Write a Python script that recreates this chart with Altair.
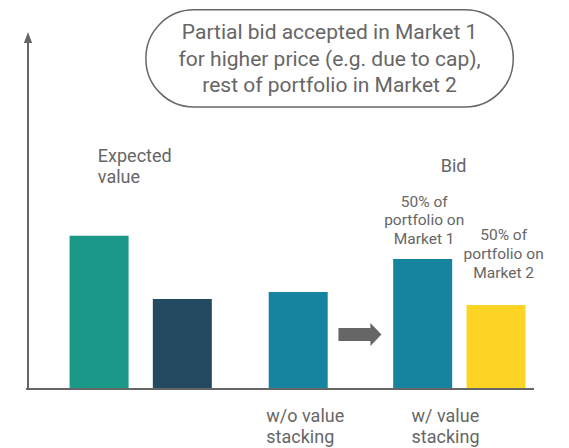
import altair as alt
import pandas as pd

# ---- data ----
categories = ["Expected A", "Expected B", "w/o value stacking", "Market 1", "Market 2"]
values = [42.9, 25.2, 27.2, 36.4, 23.5]
bar_pos = [14.05, 30.5, 53.4, 78.0, 92.5]
bar_colors = ["#1A9988", "#234A61", "#16849F", "#16849F", "#FDD324"]

box_lines = ["Partial bid accepted in Market 1",
             "for higher price (e.g. due to cap),",
             "rest of portfolio in Market 2"]
expected_lines = ["Expected", "value"]
bid_label = ["Bid"]
m1_lines = ["50% of", "portfolio on", "Market 1"]
m2_lines = ["50% of", "portfolio on", "Market 2"]
wo_lines = ["w/o value", "stacking"]
w_lines = ["w/ value", "stacking"]

GRAY = "#666666"
FONT = "Roboto"

bars_df = pd.DataFrame({"cat": categories, "value": values, "pos": bar_pos})

xs = alt.Scale(domain=[0, 100], nice=False, zero=False)
ys = alt.Scale(domain=[0, 100], nice=False, zero=False)

bars = alt.Chart(bars_df).mark_bar(size=59).encode(
    x=alt.X("pos:Q", scale=xs, axis=None),
    y=alt.Y("value:Q", scale=ys, axis=None),
    y2=alt.datum(0),
    color=alt.Color("cat:N", scale=alt.Scale(domain=categories, range=bar_colors), legend=None),
)

# axes lines
yaxis = alt.Chart(pd.DataFrame({"x": [0], "y": [0], "y2": [97]})).mark_rule(
    color=GRAY, strokeWidth=2).encode(
    x=alt.X("x:Q", scale=xs), y=alt.Y("y:Q", scale=ys), y2="y2:Q")
xaxis = alt.Chart(pd.DataFrame({"x": [-0.4], "x2": [100], "y": [0]})).mark_rule(
    color=GRAY, strokeWidth=2).encode(
    x=alt.X("x:Q", scale=xs), x2="x2:Q", y=alt.Y("y:Q", scale=ys))
arrowhead = alt.Chart(pd.DataFrame({"x": [0], "y": [100]})).mark_point(
    shape="M0,0L0.75,2L-0.75,2Z", size=121, filled=True, color=GRAY, opacity=1).encode(
    x=alt.X("x:Q", scale=xs), y=alt.Y("y:Q", scale=ys))

# gray arrow between scenarios
big_arrow = alt.Chart(pd.DataFrame({"x": [65.6], "y": [15.3]})).mark_point(
    shape="M-1.87,-0.565L0.91,-0.565L0.91,-1L1.87,0L0.91,1L0.91,0.565L-1.87,0.565Z",
    size=529, filled=True, color=GRAY, opacity=1).encode(
    x=alt.X("x:Q", scale=xs), y=alt.Y("y:Q", scale=ys))

# rounded box
box = alt.Chart(pd.DataFrame({"x": [23.3], "x2": [95.9], "y": [106.2], "y2": [79.0]})).mark_rect(
    cornerRadius=48, fill="white", stroke=GRAY, strokeWidth=1.5).encode(
    x=alt.X("x:Q", scale=xs), x2="x2:Q", y=alt.Y("y:Q", scale=ys), y2="y2:Q")


def text_layer(lines, x, ys_, size, align):
    df = pd.DataFrame({"t": lines, "x": [x] * len(lines), "y": ys_})
    return alt.Chart(df).mark_text(
        font=FONT, fontSize=size, color=GRAY, align=align, baseline="middle").encode(
        x=alt.X("x:Q", scale=xs), y=alt.Y("y:Q", scale=ys), text="t:N")


texts = [
    text_layer(box_lines, 59.6, [99.8, 92.2, 84.9], 21, "center"),
    text_layer(expected_lines, 13.8, [65.0, 59.1], 18, "left"),
    text_layer(bid_label, 84.1, [62.2], 18, "center"),
    text_layer(m1_lines, 78.3, [52.4, 47.2, 42.0], 15.5, "center"),
    text_layer(m2_lines, 94.0, [43.1, 37.8, 32.5], 15.5, "center"),
    text_layer(wo_lines, 47.1, [-7.8, -13.7], 18, "left"),
    text_layer(w_lines, 75.8, [-7.8, -13.7], 18, "left"),
]

chart = alt.layer(bars, yaxis, xaxis, arrowhead, big_arrow, box, *texts).properties(
    width=516, height=357,
    padding={"left": 15, "top": 24, "right": 22, "bottom": 59},
    autosize=alt.AutoSizeParams(type="none"),
).configure_view(stroke=None)

chart.save("out.html", embed_options={"renderer": "svg", "actions": False})
